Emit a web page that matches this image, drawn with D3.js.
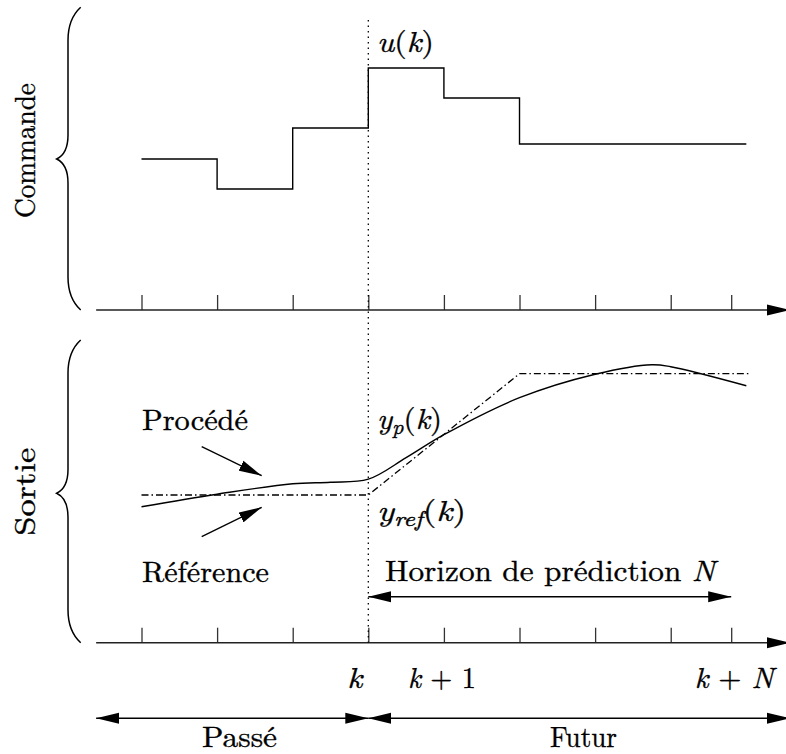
<!DOCTYPE html>
<html>
<head>
<meta charset="utf-8">
<script src="https://cdn.jsdelivr.net/npm/d3@7"></script>
<style>
  html, body { margin: 0; padding: 0; background: #fff; }
  svg { display: block; }
</style>
</head>
<body>
<svg id="chart" width="786" height="754"></svg>
<script>
// ---------------- data ----------------
const tickValues   = [-3, -2, -1, 0, 1, 2, 3, 4, 4.8];   // sample instants (k = 0, k+N = 4.8)
const stepStarts   = [-3, -2, -1, 0, 1, 2];               // command step start instants
const stepEnd      = 5;
const commande     = [151, 121, 182, 242, 212, 166];      // command values u
const procedeT     = [-3, -2, -1, -0.5, 0, 0.5, 1, 2, 3, 3.75, 4, 5];
const procedeV     = [136, 148.5, 159, 160.5, 163.5, 185, 208, 245, 268.5, 278, 276, 257];
const referenceT   = [-3, 0, 2, 5.05];
const referenceV   = [147.7, 147.7, 269, 269];
const tickLabelPos = [0, 1, 4.8];
const tickLabels   = [["k"], ["k", " + 1"], ["k", " + ", "N"]];

// ---------------- layout ----------------
const W = 786, H = 754;
const FONT = "'Latin Modern Roman', 'CMU Serif', 'Liberation Serif', serif";
const svg = d3.select("#chart");

const x = d3.scaleLinear().domain([-3, 4.8]).range([141.5, 731.2]);
const yTop = d3.scaleLinear().domain([0, 300]).range([310, 10]);
const yBot = d3.scaleLinear().domain([0, 300]).range([642.7, 342.7]);
const axisStart = x(-3.6), axisEnd = 790;

// arrow marker
const defs = svg.append("defs");
defs.append("marker")
  .attr("id", "arr")
  .attr("markerUnits", "userSpaceOnUse")
  .attr("markerWidth", 24).attr("markerHeight", 12)
  .attr("viewBox", "0 0 24 12")
  .attr("refX", 23).attr("refY", 6)
  .attr("orient", "auto-start-reverse")
  .append("path").attr("d", "M0,0.5 L23,6 L0,11.5 Z").attr("fill", "#000");

// ---------------- axes ----------------
function drawAxis(yScale) {
  const y0 = yScale(0);
  const g = svg.append("g").attr("transform", `translate(0,${y0})`)
    .call(d3.axisTop(x).tickValues(tickValues).tickSize(15).tickFormat(""));
  g.select(".domain").remove();
  g.selectAll(".tick line").attr("stroke", "#333").attr("stroke-width", 1.3);
  svg.append("line")
    .attr("x1", axisStart).attr("x2", axisEnd)
    .attr("y1", y0).attr("y2", y0)
    .attr("stroke", "#222").attr("stroke-width", 1.6)
    .attr("marker-end", "url(#arr)");
}
drawAxis(yTop);
drawAxis(yBot);

// dotted vertical at k
svg.append("line")
  .attr("x1", x(0)).attr("x2", x(0))
  .attr("y1", 20).attr("y2", yBot(0))
  .attr("stroke", "#000").attr("stroke-width", 1.3)
  .attr("stroke-dasharray", "1.5,4");

// ---------------- command steps ----------------
const stepPts = stepStarts.map((t, i) => [t, commande[i]]);
stepPts.push([stepEnd, commande[commande.length - 1]]);
svg.append("path")
  .attr("d", d3.line().x(d => x(d[0])).y(d => yTop(d[1])).curve(d3.curveStepAfter)(stepPts))
  .attr("fill", "none").attr("stroke", "#000").attr("stroke-width", 1.4);

// ---------------- output curves ----------------
svg.append("path")
  .attr("d", d3.line().x((d, i) => x(referenceT[i])).y(d => yBot(d))(referenceV))
  .attr("fill", "none").attr("stroke", "#000").attr("stroke-width", 1.3)
  .attr("stroke-dasharray", "7,3,1.5,3");

svg.append("path")
  .attr("d", d3.line().x((d, i) => x(procedeT[i])).y(d => yBot(d)).curve(d3.curveCatmullRom.alpha(0.5))(procedeV))
  .attr("fill", "none").attr("stroke", "#000").attr("stroke-width", 1.4);

// ---------------- braces ----------------
function brace(y0, y1, tipY) {
  const xe = 80.7, xb = 68, xt = 56.7;
  const p = d3.path();
  p.moveTo(xe, y0);
  p.bezierCurveTo(73, y0 + 7, xb, y0 + 17, xb, y0 + 33);
  p.lineTo(xb, tipY - 24);
  p.bezierCurveTo(xb, tipY - 11, 63, tipY - 3, xt, tipY);
  p.bezierCurveTo(63, tipY + 3, xb, tipY + 11, xb, tipY + 24);
  p.lineTo(xb, y1 - 33);
  p.bezierCurveTo(xb, y1 - 17, 73, y1 - 7, xe, y1);
  svg.append("path").attr("d", p.toString())
    .attr("fill", "none").attr("stroke", "#000").attr("stroke-width", 1.5);
}
brace(7.3, yTop(0), 159);
brace(340, yBot(0), 493.3);

// ---------------- texts ----------------
const FS = 29;
function label(parts, xPos, yPos, width, opts = {}) {
  const t = svg.append("text")
    .attr("x", xPos).attr("y", yPos)
    .attr("font-family", FONT)
    .attr("font-size", FS)
    .attr("fill", "#000")
    .attr("stroke", "#000").attr("stroke-width", 0.35)
    .style("white-space", "pre")
    .attr("text-anchor", opts.anchor || "start");
  if (opts.rotate) t.attr("transform", `rotate(-90, ${xPos}, ${yPos})`);
  parts.forEach(p => {
    const s = t.append("tspan").text(p.t);
    if (p.i) s.attr("font-style", "italic");
    if (p.sub) s.attr("font-size", 21).attr("dy", 5);
    if (p.up) s.attr("dy", -5);
  });
  if (width) t.attr("textLength", width).attr("lengthAdjust", "spacingAndGlyphs");
  return t;
}

label([{t: "Commande"}], 35, 150.5, 135, {anchor: "middle", rotate: true});
label([{t: "Sortie"}], 35, 491.7, 88, {anchor: "middle", rotate: true});

label([{t: "u", i: 1}, {t: "("}, {t: "k", i: 1}, {t: ")"}], 377, 52, 57);
label([{t: "y", i: 1}, {t: "p", i: 1, sub: 1}, {t: "(", up: 1}, {t: "k", i: 1}, {t: ")"}], 377, 429, 65);
label([{t: "y", i: 1}, {t: "ref", i: 1, sub: 1}, {t: "(", up: 1}, {t: "k", i: 1}, {t: ")"}], 377, 521, 89);

label([{t: "Procédé"}], 142, 429.5, 106);
label([{t: "Référence"}], 142, 582, 127);
label([{t: "Horizon de prédiction "}, {t: "N", i: 1}], 385, 580.5, 330);

// tick labels
const tlWidths = [15, 68, 79];
tickLabelPos.forEach((p, i) => {
  const parts = tickLabels[i].map((s, j) => ({t: s, i: (s === "k" || s === "N") ? 1 : 0}));
  if (i === 0) label(parts, x(p) - 6, 688, tlWidths[i], {anchor: "end"});
  else label(parts, x(p) + (i === 1 ? -2 : 3), 688, tlWidths[i], {anchor: "middle"});
});

label([{t: "Passé"}], 239.5, 747, 75, {anchor: "middle"});
label([{t: "Futur"}], 583.5, 747, 67, {anchor: "middle"});

// ---------------- annotation arrows ----------------
function arrow(x1, y1, x2, y2, both) {
  const l = svg.append("line")
    .attr("x1", x1).attr("y1", y1).attr("x2", x2).attr("y2", y2)
    .attr("stroke", "#000").attr("stroke-width", 1.4)
    .attr("marker-end", "url(#arr)");
  if (both) l.attr("marker-start", "url(#arr)");
}
arrow(201.7, 446.7, 261.7, 475.7, false);   // Procédé
arrow(201.7, 536.7, 261.7, 507.3, false);   // Référence
arrow(x(0), 596.7, x(4.8), 596.7, true);     // horizon N
arrow(axisStart, 718.3, x(0), 718.3, true);  // Passé
arrow(x(0), 718.3, axisEnd, 718.3, true);    // Futur
</script>
</body>
</html>
